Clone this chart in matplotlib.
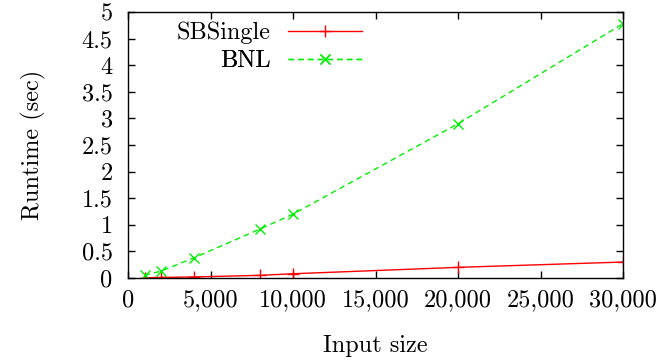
import matplotlib
matplotlib.use("Agg")
import matplotlib.pyplot as plt
from matplotlib.ticker import FuncFormatter, MultipleLocator

plt.rcParams['font.family'] = ['cmr10', 'DejaVu Serif']
plt.rcParams['mathtext.fontset'] = 'cm'
plt.rcParams['axes.formatter.use_mathtext'] = True

input_size = [1000, 2000, 4000, 8000, 10000, 20000, 30000]
sbsingle = [0.005, 0.01, 0.02, 0.05, 0.08, 0.2, 0.3]
bnl = [0.05, 0.13, 0.38, 0.92, 1.2, 2.9, 4.78]

FS = 17.5

fig = plt.figure(figsize=(6.57, 3.6), dpi=100)
ax = fig.add_axes([128/657, 1-278/360, (623-128)/657, (278-12)/360])

l1, = ax.plot(input_size, sbsingle, color='#ff0000', lw=1, marker='+', ms=8, mew=1, label='SBSingle')
l2, = ax.plot(input_size, bnl, color='#00ee00', lw=1, ls=(0, (4, 3)), marker='x', ms=7, mew=1, label='BNL')

ax.set_xlim(0, 30000)
ax.set_ylim(0, 5)
ax.xaxis.set_major_locator(MultipleLocator(5000))
ax.yaxis.set_major_locator(MultipleLocator(0.5))
ax.xaxis.set_major_formatter(FuncFormatter(lambda v, p: f"{int(v):,}"))
ax.yaxis.set_major_formatter(FuncFormatter(lambda v, p: f"{v:g}"))
ax.tick_params(direction='in', length=5, width=1, top=True, right=True, labelsize=FS)
ax.tick_params(axis='x', pad=8)
ax.tick_params(axis='y', pad=11)
for s in ax.spines.values():
    s.set_linewidth(1)

ax.set_xlabel('Input size', fontsize=FS, labelpad=17)
ax.set_ylabel('Runtime (sec)', fontsize=FS, labelpad=26)

for h, y in [(l1, (278-33)/266), (l2, (278-61)/266)]:
    lg = ax.legend(handles=[h], loc='center right', bbox_to_anchor=((362-128)/495, y),
                   markerfirst=False, frameon=False, handlelength=3.05,
                   handletextpad=0.72, fontsize=FS, borderaxespad=0, borderpad=0)
    ax.add_artist(lg)

fig.savefig('out.png', dpi=100)
